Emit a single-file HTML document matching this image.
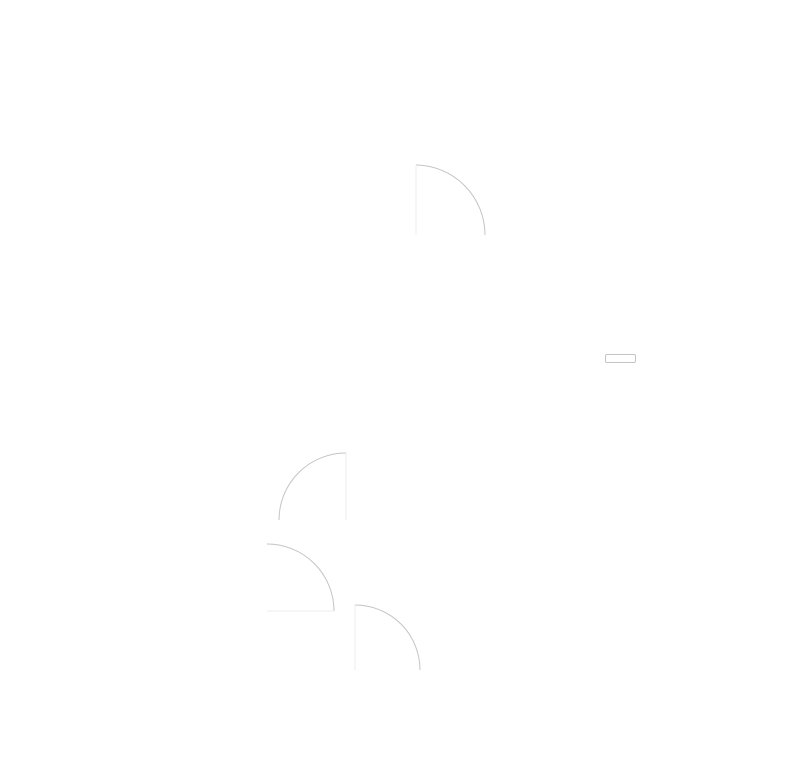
<!DOCTYPE html>
<html><head><meta charset="utf-8"><style>html,body{margin:0;padding:0;background:#fff;width:812px;height:774px;overflow:hidden}</style></head>
<body>
<svg width="812" height="774" viewBox="0 0 812 774" xmlns="http://www.w3.org/2000/svg">
<g fill="none" stroke-width="1">
<path d="M416 165 A70 70 0 0 1 485 235" stroke="#c4c4c4"/>
<path d="M416 165 V235" stroke="#ececec"/>
<path d="M346 453 A67 67 0 0 0 279 520" stroke="#c4c4c4"/>
<path d="M346 453 V520" stroke="#ececec"/>
<path d="M267 544 A67 67 0 0 1 334 611" stroke="#c4c4c4"/>
<path d="M267 611 H334" stroke="#ececec"/>
<path d="M355 605 A65 65 0 0 1 420 670" stroke="#c4c4c4"/>
<path d="M355 605 V670" stroke="#ececec"/>
<rect x="605.5" y="354.5" width="30" height="8" rx="1.5" stroke="#c4c4c4"/>
</g>
</svg>
</body></html>
